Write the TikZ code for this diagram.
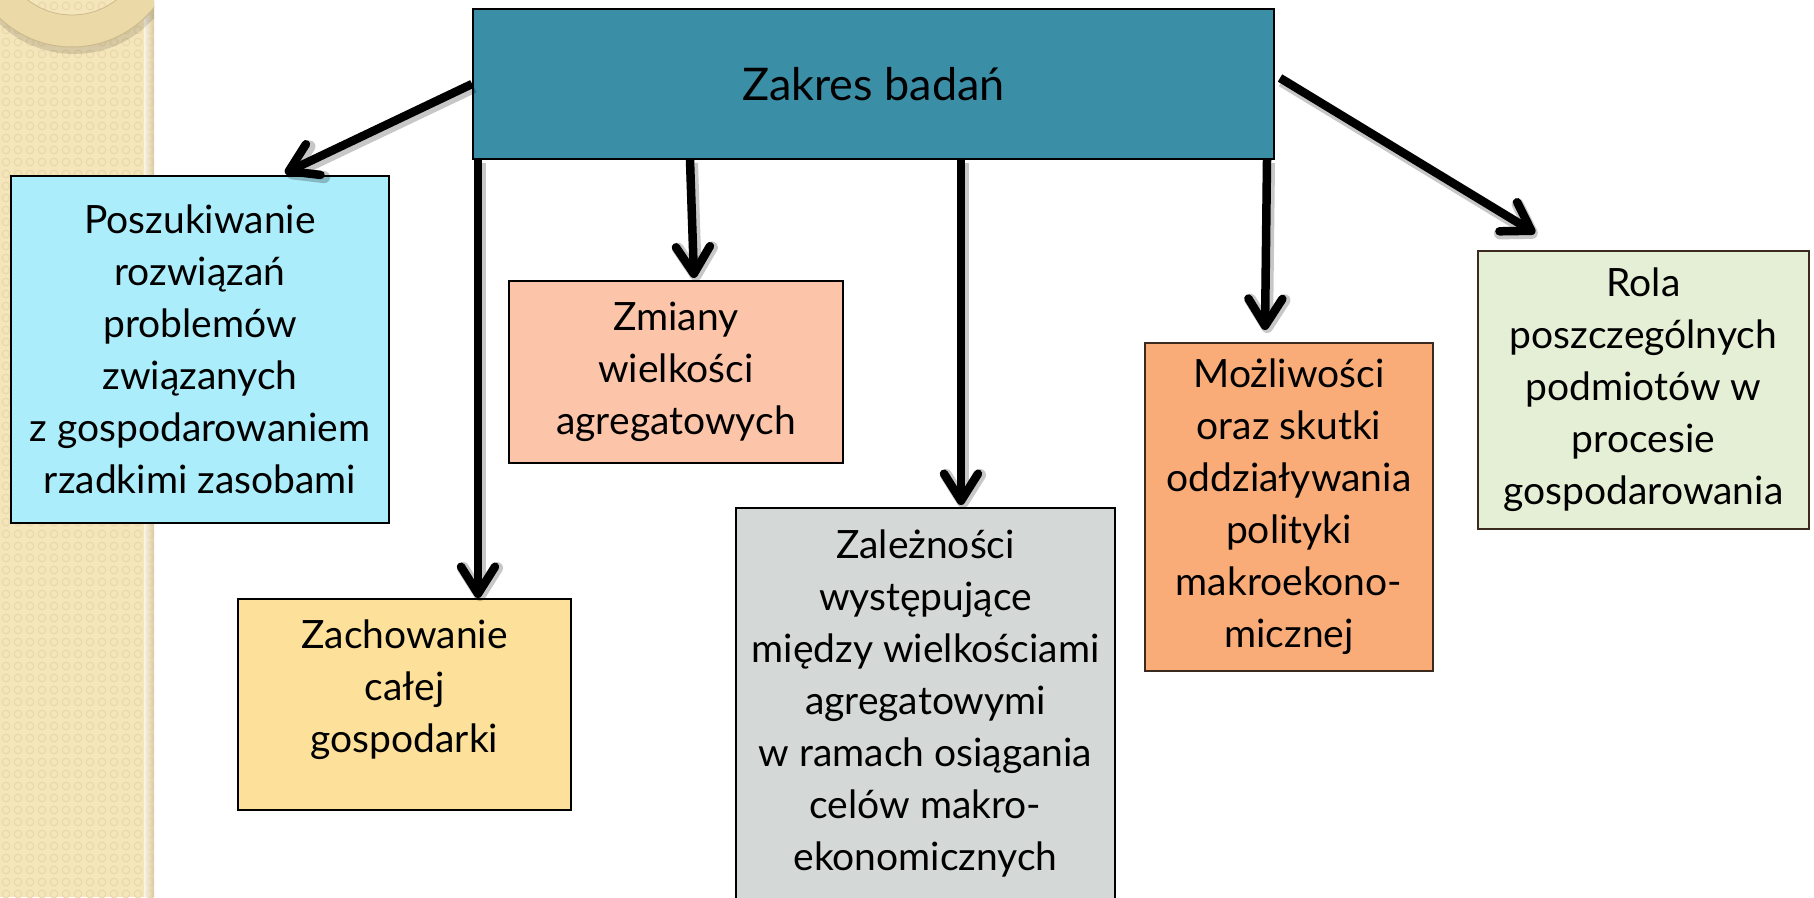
\documentclass[tikz,border=0pt]{standalone}
\usepackage{fontspec}
\setmainfont{Lato}
\usetikzlibrary{arrows.meta,calc}
\definecolor{stripbg}{HTML}{F4E5BA}
\definecolor{stripdot}{HTML}{E9D8A8}
\definecolor{ringcol}{HTML}{EBD9A8}
\definecolor{ringedge}{HTML}{CDBB8E}
\definecolor{cmain}{HTML}{3A8FA7}
\definecolor{cone}{HTML}{ABEDFA}
\definecolor{ctwo}{HTML}{FDE19A}
\definecolor{cthree}{HTML}{FCC5A9}
\definecolor{cfour}{HTML}{D4D8D6}
\definecolor{cfive}{HTML}{F9AC78}
\definecolor{csix}{HTML}{E5EFD5}
\definecolor{brownedge}{HTML}{3C2A1E}
\begin{document}
\begin{tikzpicture}[x=1pt,y=-1pt,
  box/.style={draw=black, line width=2pt, align=center, inner sep=0pt, anchor=north west,
    font=\fontsize{39}{52}\selectfont},
  arr/.style={line width=8.5pt, -{Straight Barb[length=27pt,width=34pt,round]},
    preaction={draw=black, opacity=0.22, line width=12pt, transform canvas={shift={(2pt,-3pt)}}}}
]
\useasboundingbox (0,0) rectangle (1814,897);
% textured side strip
\begin{scope}
  \clip (0,0) rectangle (154,897);
  \fill[stripbg] (0,0) rectangle (154,897);
  \foreach \i in {0,...,12} {
    \foreach \j in {0,...,74} {
      \draw[stripdot, line width=1.1pt] (6+12*\i, 6+12*\j) circle (3.8pt);
    }
  }
  \shade[left color=stripbg!0, right color=ringedge, opacity=0.6] (144,0) rectangle (154,897);
  \fill[black, opacity=0.12, even odd rule] (74,-53) circle (107pt) (74,-53) circle (74pt);
  \fill[ringcol, even odd rule] (72,-58) circle (105pt) (72,-58) circle (73pt);
  \draw[ringedge, line width=1pt] (72,-58) circle (105pt);
  \draw[ringedge, line width=0.8pt] (72,-58) circle (73pt);
\end{scope}
% boxes
\node[box, fill=cmain, minimum width=801pt, minimum height=150pt,
  font=\fontsize{45}{52}\selectfont] (main) at (472,8) {Zakres badań};
\node[box, fill=cone, minimum width=378pt, minimum height=347pt] (b1) at (10,175)
  {Poszukiwanie\\rozwiązań\\problemów\\związanych\\z gospodarowaniem\\rzadkimi zasobami};
\node[box, fill=ctwo, minimum width=333pt, minimum height=211pt] (b2) at (237,598)
  {Zachowanie\\całej\\gospodarki\rule[-37pt]{0pt}{37pt}};
\node[box, fill=cthree, minimum width=334pt, minimum height=182pt] (b3) at (508,280)
  {Zmiany\\wielkości\\agregatowych};
\node[box, fill=cfour, minimum width=379pt, minimum height=400pt] (b4) at (735,507)
  {Zależności\\występujące\\między wielkościami\\agregatowymi\\w ramach osiągania\\celów makro-\\ekonomicznych\rule[-16pt]{0pt}{16pt}};
\node[box, fill=cfive, draw=brownedge, minimum width=288pt, minimum height=328pt] (b5) at (1144,342)
  {Możliwości\\oraz skutki\\oddziaływania\\polityki\\makroekono-\\micznej};
\node[box, fill=csix, draw=brownedge, minimum width=331pt, minimum height=278pt] (b6) at (1477,250)
  {Rola\\poszczególnych\\podmiotów w\\procesie\\gospodarowania};
% connectors
\draw[arr] (main.west) -- ([xshift=275pt,yshift=2pt]b1.north west);
\draw[arr] ([xshift=6pt]main.south west) -- ([xshift=6pt]main.south west |- b2.north);
\draw[arr] ([xshift=218pt]main.south west) -- ([xshift=186pt,yshift=2pt]b3.north west);
\draw[arr] ([xshift=489pt]main.south west) -- ([xshift=226pt,yshift=2pt]b4.north west);
\draw[arr] ([xshift=-8pt]main.south east) -- ([xshift=121pt,yshift=12pt]b5.north west);
\draw[arr] ([xshift=5pt,yshift=6pt]main.east) -- ([xshift=58pt,yshift=17pt]b6.north west);
\end{tikzpicture}
\end{document}
